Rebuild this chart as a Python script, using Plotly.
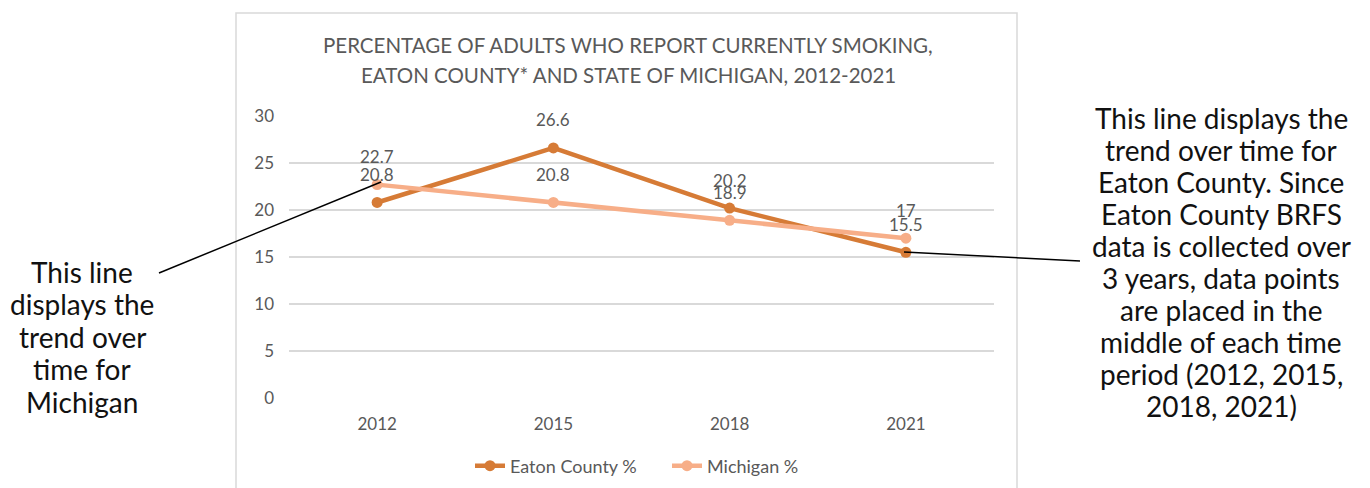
import plotly.graph_objects as go

# Survey years and smoking prevalence (%)
years = ["2012", "2015", "2018", "2021"]
eaton_pct = [20.8, 26.6, 20.2, 15.5]
michigan_pct = [22.7, 20.8, 18.9, 17]
y_ticks = [0, 5, 10, 15, 20, 25, 30]

title_lines = [
    "PERCENTAGE OF ADULTS WHO REPORT CURRENTLY SMOKING,",
    "EATON COUNTY* AND STATE OF MICHIGAN, 2012-2021",
]
michigan_note = ["This line", "displays the", "trend over", "time for", "Michigan"]
eaton_note = [
    "This line displays the", "trend over time for", "Eaton County. Since",
    "Eaton County BRFS", "data is collected over", "3 years, data points",
    "are placed in the", "middle of each time", "period (2012, 2015,", "2018, 2021)",
]

EATON_COLOR = "#d67b36"
MICHIGAN_COLOR = "#f7ae88"
TEXT_GRAY = "#595959"
GRID_GRAY = "#d9d9d9"
FONT = "Lato, 'Open Sans', sans-serif"

W, H = 1370, 488
L, R, T, B = 289, 994, 116, 398  # plot area in pixels


def px(x):
    return (x - L) / (R - L)


def py(y):
    return (B - y) / (B - T)


fig = go.Figure()
fig.add_trace(go.Scatter(
    x=years, y=eaton_pct, name="Eaton County %", mode="lines+markers",
    line=dict(color=EATON_COLOR, width=4.5), marker=dict(size=11, color=EATON_COLOR),
))
fig.add_trace(go.Scatter(
    x=years, y=michigan_pct, name="Michigan %", mode="lines+markers",
    line=dict(color=MICHIGAN_COLOR, width=4.5), marker=dict(size=11, color=MICHIGAN_COLOR),
))

annotations = []
# value labels above each point (category index used as x position)
for series in (eaton_pct, michigan_pct):
    for i, v in enumerate(series):
        annotations.append(dict(
            x=i, y=v, xref="x", yref="y", text=f"{v:g}", showarrow=False,
            yshift=28, font=dict(family=FONT, size=17, color=TEXT_GRAY),
        ))

# chart title, one annotation per line
for k, line in enumerate(title_lines):
    annotations.append(dict(
        x=px(628), y=py(45 + 30 * k), xref="paper", yref="paper", showarrow=False,
        text=line, font=dict(family=FONT, size=20.5, color=TEXT_GRAY),
        xanchor="center", yanchor="middle",
    ))

# explanatory notes beside the chart
for k, line in enumerate(michigan_note):
    annotations.append(dict(
        x=px(82), y=py(272 + 32.4 * k), xref="paper", yref="paper", showarrow=False,
        text=line, font=dict(family=FONT, size=28, color="#111111"),
        xanchor="center", yanchor="middle",
    ))
for k, line in enumerate(eaton_note):
    annotations.append(dict(
        x=px(1221), y=py(118 + 32.0 * k), xref="paper", yref="paper", showarrow=False,
        text=line, font=dict(family=FONT, size=28, color="#111111"),
        xanchor="center", yanchor="middle",
    ))

shapes = [
    # chart frame
    dict(type="rect", xref="paper", yref="paper",
         x0=px(236), x1=px(1017), y0=py(500), y1=py(13),
         line=dict(color=GRID_GRAY, width=1.5), layer="below"),
    # callout connectors
    dict(type="line", xref="paper", yref="paper",
         x0=px(159), y0=py(273), x1=px(381), y1=py(182),
         line=dict(color="black", width=1.5)),
    dict(type="line", xref="paper", yref="paper",
         x0=px(904), y0=py(252), x1=px(1080), y1=py(261),
         line=dict(color="black", width=1.5)),
]

fig.update_layout(
    width=W, height=H,
    margin=dict(l=L, r=W - R, t=T, b=H - B, autoexpand=False),
    paper_bgcolor="white", plot_bgcolor="white",
    font=dict(family=FONT, size=17, color=TEXT_GRAY),
    showlegend=True,
    legend=dict(orientation="h", x=px(470), y=py(466), xanchor="left", yanchor="middle",
                font=dict(family=FONT, size=18, color=TEXT_GRAY),
                entrywidth=152, entrywidthmode="pixels"),
    annotations=annotations,
    shapes=shapes,
)
fig.update_xaxes(
    type="category", range=[-0.5, 3.5], showgrid=False, showline=False,
    ticks="", tickfont=dict(family=FONT, size=17, color=TEXT_GRAY), ticklabelstandoff=14,
)
fig.update_yaxes(
    range=[0, 30], tickvals=y_ticks, showgrid=True, gridcolor=GRID_GRAY, gridwidth=1.5,
    zeroline=False, showline=False, ticks="", ticklabelstandoff=14,
    tickfont=dict(family=FONT, size=17, color=TEXT_GRAY),
)

fig.write_html("out.html")
